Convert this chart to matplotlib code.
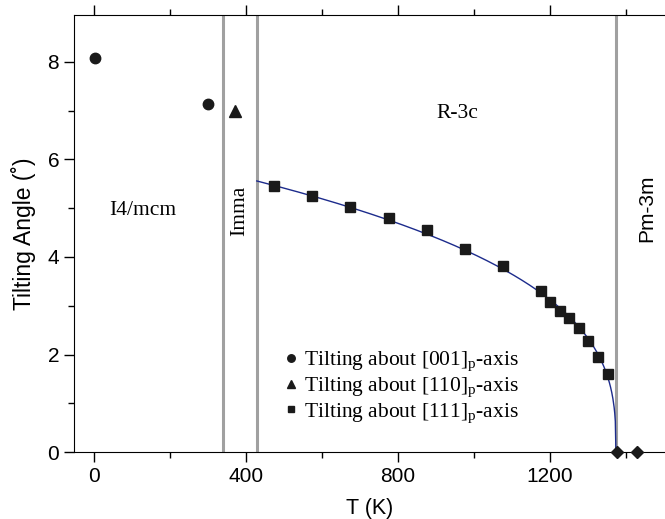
import matplotlib
matplotlib.use("Agg")
import matplotlib.pyplot as plt
from matplotlib.ticker import MultipleLocator
import numpy as np

plt.rcParams['font.family'] = ['Liberation Sans', 'DejaVu Sans']
plt.rcParams['mathtext.fontset'] = 'custom'
plt.rcParams['mathtext.rm'] = 'Liberation Serif'
plt.rcParams['mathtext.it'] = 'Liberation Serif:italic'

# data
t_001 = [3, 300]
a_001 = [8.08, 7.13]
t_110 = [373]
a_110 = [7.0]
t_111 = [474, 574, 674, 776, 876, 977, 1076, 1176, 1200, 1226, 1250, 1276, 1300, 1326, 1352]
a_111 = [5.46, 5.24, 5.02, 4.79, 4.55, 4.17, 3.81, 3.31, 3.07, 2.90, 2.74, 2.54, 2.27, 1.94, 1.61]
t_cubic = [1377, 1429]
a_cubic = [0, 0]
phase_lines = [340, 429, 1373]
tc = 1373

# power-law fit a = A*(Tc - T)^beta to the [111] points
tt = np.array(t_111)
aa = np.array(a_111)
beta, logA = np.polyfit(np.log(tc - tt), np.log(aa), 1)
t_fit = np.linspace(phase_lines[1], tc, 600)
a_fit = np.exp(logA) * (tc - t_fit) ** beta

fig = plt.figure(figsize=(6.65, 5.19), dpi=100)
ax = fig.add_axes([0.111, 0.129, 0.889, 0.842])

for x in phase_lines:
    ax.axvline(x, color='#a0a0a0', lw=2.2, zorder=1)

ax.plot(t_fit, a_fit, color='#1c2b8c', lw=1.0, zorder=2)
ax.plot(t_001, a_001, 'o', color='#1a1a1a', ms=7.5, ls='none', zorder=3,
        label='Tilting about [001]$_\\mathrm{p}$-axis')
ax.plot(t_110, a_110, '^', color='#1a1a1a', ms=8.5, ls='none', zorder=3,
        label='Tilting about [110]$_\\mathrm{p}$-axis')
ax.plot(t_111, a_111, 's', color='#1a1a1a', ms=6.5, ls='none', zorder=3,
        label='Tilting about [111]$_\\mathrm{p}$-axis')
ax.plot(t_cubic, a_cubic, 'D', color='#1a1a1a', ms=6, ls='none', zorder=4, clip_on=False)

ax.set_xlim(-52, 1502)
ax.set_ylim(0, 8.96)
ax.xaxis.set_major_locator(MultipleLocator(400))
ax.xaxis.set_minor_locator(MultipleLocator(200))
ax.yaxis.set_major_locator(MultipleLocator(2))
ax.yaxis.set_minor_locator(MultipleLocator(1))
ax.tick_params(axis='both', which='both', direction='out', labelsize=15, width=1)
ax.tick_params(axis='x', which='both', top=True, labeltop=False)
ax.tick_params(which='major', length=7)
ax.tick_params(which='minor', length=4)
ax.spines['right'].set_visible(False)

ax.set_xlabel('T (K)', fontsize=15.5, labelpad=9)
ax.set_ylabel('Tilting Angle (˚)', fontsize=16.5, labelpad=8)

serif = ['Liberation Serif', 'DejaVu Serif']
ax.text(128, 4.95, 'I4/mcm', family=serif, fontsize=15.5, ha='center', va='center')
ax.text(385, 4.95, 'Imma', family=serif, fontsize=15.5, ha='center', va='center', rotation=90)
ax.text(955, 6.95, 'R-3c', family=serif, fontsize=15.5, ha='center', va='center')
ax.text(1453, 5.0, 'Pm-3m', fontsize=15, ha='center', va='center', rotation=90)

leg = ax.legend(loc='upper left', bbox_to_anchor=(0.313, 0.278), frameon=False,
                handletextpad=0.0, handlelength=1.2, labelspacing=0.1,
                markerscale=0.72, prop={'family': serif, 'size': 15.5})

fig.savefig('out.png', dpi=100)
